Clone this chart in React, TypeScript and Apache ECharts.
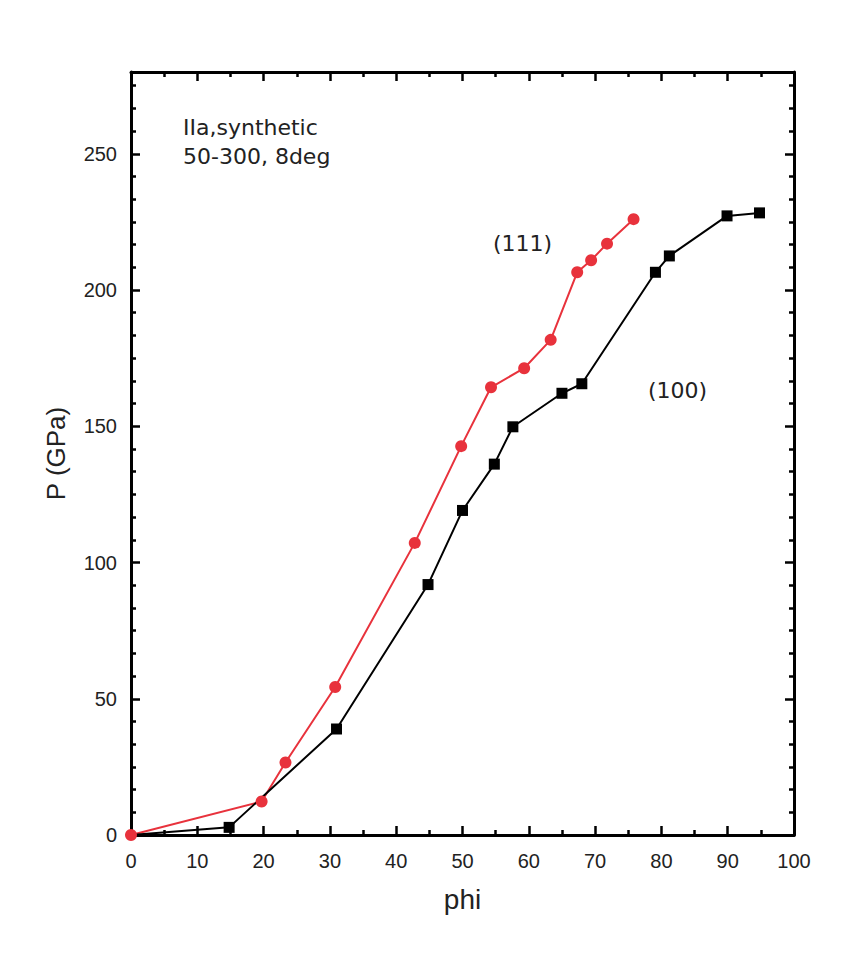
import React, { useEffect, useRef } from "react";
import * as echarts from "echarts";

const phi100 = [0, 14.8, 31.0, 44.8, 50.0, 54.8, 57.6, 65.0, 68.0, 79.1, 81.2, 89.9, 94.8];
const p100 = [0, 2.8, 38.9, 91.9, 119.1, 136.1, 149.8, 162.1, 165.6, 206.5, 212.5, 227.2, 228.3];

const phi111 = [0, 19.7, 23.3, 30.8, 42.8, 49.8, 54.3, 59.3, 63.3, 67.3, 69.4, 71.8, 75.8];
const p111 = [0, 12.3, 26.6, 54.3, 107.2, 142.7, 164.3, 171.3, 181.7, 206.5, 210.9, 217.0, 226.0];

const FONT = "'Liberation Sans', Arial, sans-serif";
const NOTE_FONT = "'DejaVu Sans', sans-serif";

export default function App() {
  const ref = useRef<HTMLDivElement>(null);
  useEffect(() => {
    const chart = echarts.init(ref.current!, null, { renderer: "svg" });
    const axisLine = { show: true, onZero: false, lineStyle: { color: "#000", width: 3 } };
    const tick = { show: true, inside: true, length: 9, lineStyle: { color: "#000", width: 2.5 } };
    const minor = (n: number) => ({ show: true, splitNumber: n, length: 5, lineStyle: { color: "#000", width: 2.5 } });
    chart.setOption({
      animation: false,
      backgroundColor: "#fff",
      grid: { left: 131, right: 63, top: 72, bottom: 124, containLabel: false },
      xAxis: [
        {
          type: "value", min: 0, max: 100, interval: 10, position: "bottom",
          axisLine, axisTick: tick, minorTick: minor(2), splitLine: { show: false },
          axisLabel: { color: "#222", fontSize: 20, fontFamily: FONT, margin: 16 },
          name: "phi", nameLocation: "middle", nameGap: 50,
          nameTextStyle: { color: "#222", fontSize: 28, fontFamily: FONT },
        },
        {
          type: "value", min: 0, max: 100, interval: 10, position: "top",
          axisLine, axisTick: tick, minorTick: minor(2), splitLine: { show: false },
          axisLabel: { show: false },
        },
      ],
      yAxis: [
        {
          type: "value", min: 0, max: 280, interval: 50, position: "left",
          axisLine, axisTick: tick, minorTick: minor(6), splitLine: { show: false },
          axisLabel: { color: "#222", fontSize: 20, fontFamily: FONT, margin: 14, showMaxLabel: false },
          name: "P (GPa)", nameLocation: "middle", nameGap: 62, nameRotate: 90,
          nameTextStyle: { color: "#222", fontSize: 26, fontFamily: FONT },
        },
        {
          type: "value", min: 0, max: 280, interval: 50, position: "right",
          axisLine, axisTick: tick, minorTick: minor(6), splitLine: { show: false },
          axisLabel: { show: false },
        },
      ],
      series: [
        {
          name: "(111)", type: "line", xAxisIndex: 0, yAxisIndex: 0,
          data: phi111.map((x, i) => [x, p111[i]]),
          symbol: "circle", symbolSize: 12, showAllSymbol: true,
          lineStyle: { color: "#e8323c", width: 2 },
          itemStyle: { color: "#e8323c" },
        },
        {
          name: "(100)", type: "line", xAxisIndex: 0, yAxisIndex: 0,
          data: phi100.map((x, i) => (i === 0 ? { value: [x, p100[i]], symbol: "none" } : [x, p100[i]])),
          symbol: "rect", symbolSize: 11, showAllSymbol: true,
          lineStyle: { color: "#000", width: 2 },
          itemStyle: { color: "#000" },
        },
      ],
      graphic: [
        { type: "text", x: 183, y: 127, style: { text: "IIa,synthetic", font: `22px ${NOTE_FONT}`, fill: "#222", verticalAlign: "middle" } },
        { type: "text", x: 183, y: 156, style: { text: "50-300, 8deg", font: `22px ${NOTE_FONT}`, fill: "#222", verticalAlign: "middle" } },
        { type: "text", x: 493, y: 243, style: { text: "(111)", font: `22px ${NOTE_FONT}`, fill: "#222", verticalAlign: "middle" } },
        { type: "text", x: 648, y: 390, style: { text: "(100)", font: `22px ${NOTE_FONT}`, fill: "#222", verticalAlign: "middle" } },
      ],
    });
    return () => chart.dispose();
  }, []);
  return <div ref={ref} style={{ position: "fixed", left: 0, top: 0, width: 857, height: 959 }} />;
}
